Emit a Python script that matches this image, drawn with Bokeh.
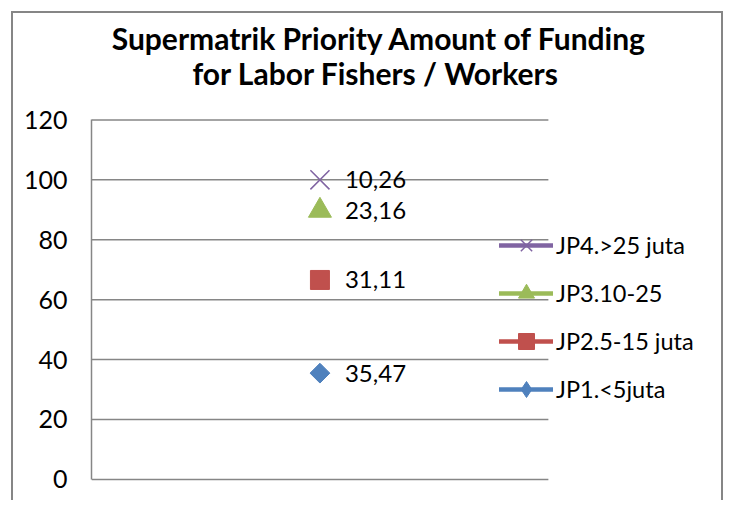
import numpy as np
from bokeh.plotting import figure
from bokeh.models import Range1d, Label, Legend, LegendItem, FixedTicker, ColumnDataSource
from bokeh.core.properties import value
from bokeh.embed import file_html
from bokeh.resources import INLINE

title_lines = ["Supermatrik Priority Amount of Funding", "for  Labor Fishers / Workers"]
series = ["JP1.<5juta", "JP2.5-15 juta", "JP3.10-25", "JP4.>25 juta"]
values = [35.47, 31.11, 23.16, 10.26]
colors = ["#4F81BD", "#C0504D", "#9BBB59", "#8064A2"]
y_ticks = [0, 20, 40, 60, 80, 100, 120]

FONT = "Lato"
GRID = "#868686"

# layout (pixels)
W, H = 712, 489
AX_W = 78            # axis panel width
AREA_W = 454         # plot-area width
AREA_TOP = 106       # plot-area top inside content
AREA_H = 358         # plot-area height
CONTENT_W = W - 4
CONTENT_H = H - 2
FRAME_W = CONTENT_W - AX_W
ppu = AREA_H / 120.0

stacked = np.cumsum(values)

y_top = 120 + AREA_TOP / ppu
y_bot = -(CONTENT_H - AREA_TOP - AREA_H) / ppu
x_end = 0.5 + FRAME_W / AREA_W

p = figure(width=W, height=H, output_backend="svg", toolbar_location=None,
           x_range=Range1d(0.5, x_end), y_range=Range1d(y_bot, y_top),
           min_border=0, min_border_left=AX_W)
p.styles = {"position": "relative", "left": "11px", "top": "11px",
            "border-left": "2px solid #868686", "border-top": "2px solid #868686",
            "border-right": "2px solid #868686"}
p.outline_line_color = None
p.xaxis.visible = False
p.xgrid.visible = False
p.ygrid.visible = False
p.yaxis.ticker = FixedTicker(ticks=y_ticks)
p.yaxis.bounds = (0, 120)
p.yaxis.axis_line_color = GRID
p.yaxis.axis_line_width = 1.5
p.yaxis.major_tick_line_color = None
p.yaxis.minor_tick_line_color = None
p.yaxis.major_label_standoff = 18
p.yaxis.major_label_text_font = FONT
p.yaxis.major_label_text_font_size = "25px"
p.yaxis.major_label_text_color = "black"

# gridlines across the plot area only
p.segment(x0=0.5, x1=1.5, y0=y_ticks, y1=y_ticks, line_color=GRID, line_width=1.5)

items = []
mk = [dict(marker="square", angle=np.pi / 4, size=14, legend_marker="diamond"),
      dict(marker="square", angle=0, size=19, legend_marker="square"),
      dict(marker="triangle", angle=0, size=23, legend_marker="triangle"),
      dict(marker="x", angle=0, size=27, legend_marker="x")]
for name, v, s, c, m in zip(series, values, stacked, colors, mk):
    src = ColumnDataSource(dict(x=[1.0], y=[s], lab=[f"{v:.2f}".replace(".", ",")]))
    ln = p.line("x", "y", source=src, line_color=c, line_width=4.5, line_cap="round")
    if m["marker"] == "x":
        sc = p.scatter("x", "y", source=src, marker="x", size=m["size"], line_color=c, line_width=1.5)
        lg = sc
    else:
        sc = p.scatter("x", "y", source=src, marker=m["marker"], angle=m["angle"], size=m["size"],
                       fill_color=c, line_color=c)
        lg = sc
        if m["legend_marker"] != m["marker"]:
            # legend-only proxy (no visible point), so the legend shows a diamond
            lg = p.scatter(x=[np.nan], y=[np.nan], marker=m["legend_marker"], size=m["size"],
                           fill_color=c, line_color=c)
    p.text("x", "y", text="lab", source=src, x_offset=25, text_baseline="middle",
           text_font=value(FONT), text_font_size="24px", text_color="black")
    items.append(LegendItem(label=name, renderers=[ln, lg]))

legend = Legend(items=items[::-1], location=(408, 93), orientation="vertical",
                glyph_width=54, glyph_height=40, label_height=24, label_standoff=3,
                spacing=8, padding=0, margin=0, border_line_color=None,
                background_fill_alpha=0, label_text_font=FONT, label_text_font_size="23.5px",
                label_text_color="black")
p.add_layout(legend, "center")

frame_h = CONTENT_H
for i, (t, yc) in enumerate(zip(title_lines, [36, 71])):
    p.add_layout(Label(x=288, y=frame_h - (yc - 14), x_units="screen", y_units="screen", text=t,
                       text_align="center", text_baseline="middle", text_font=FONT,
                       text_font_style="bold", text_font_size="30px", text_color="black"))

open("out.html", "w").write(file_html(p, INLINE))
